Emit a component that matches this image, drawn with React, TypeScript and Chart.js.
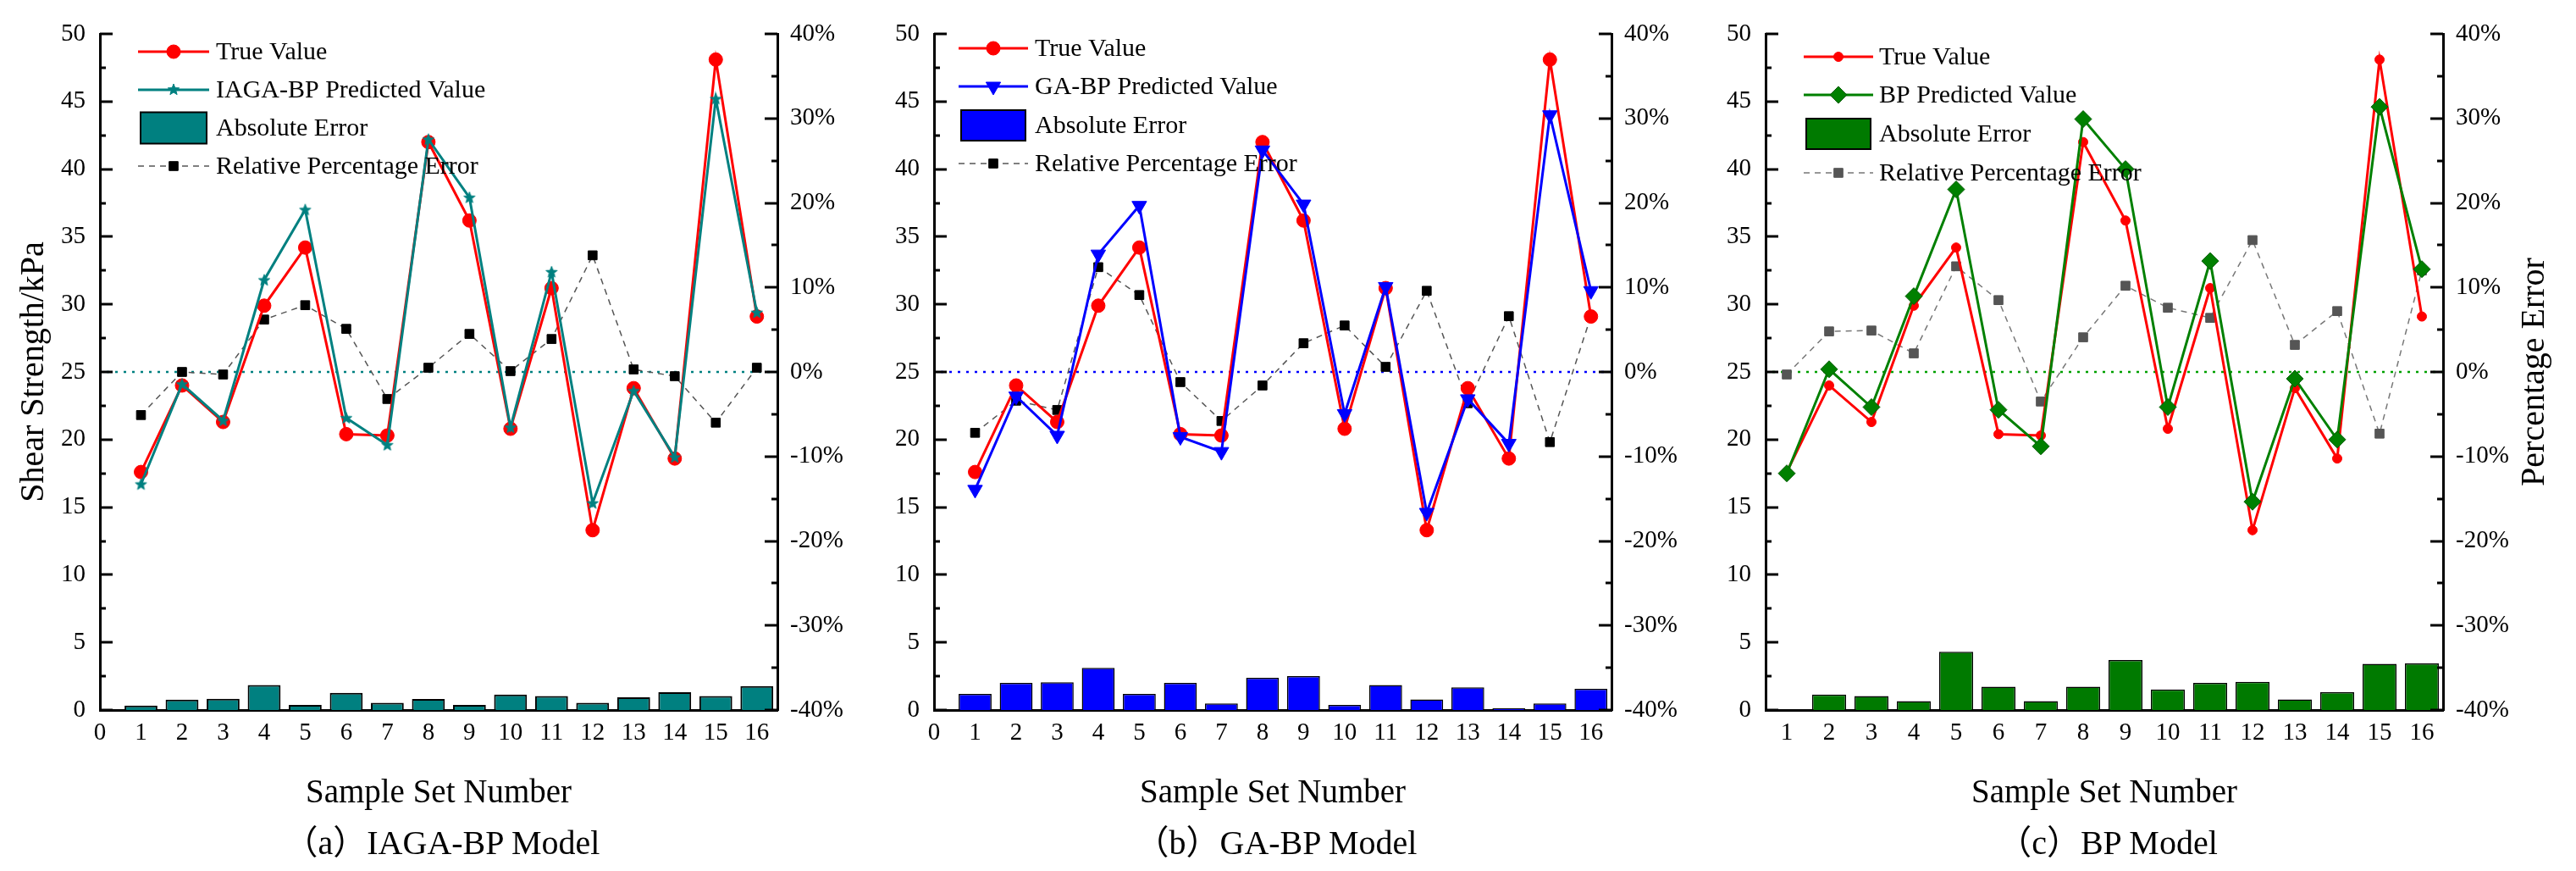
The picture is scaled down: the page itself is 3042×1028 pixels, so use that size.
import React, { useEffect, useRef } from 'react';
import { Chart, registerables } from 'chart.js';

Chart.register(...registerables);

const FONT = '"Liberation Serif", "Times New Roman", serif';

// ---------------- data ----------------
const sampleNumbers = [1, 2, 3, 4, 5, 6, 7, 8, 9, 10, 11, 12, 13, 14, 15, 16];
const trueValues = [17.6, 24.0, 21.3, 29.9, 34.2, 20.4, 20.3, 42.0, 36.2, 20.8, 31.2, 13.3, 23.8, 18.6, 48.1, 29.1];

const iagaPredicted = [16.7, 24.1, 21.4, 31.8, 37.0, 21.6, 19.6, 42.2, 37.9, 20.9, 32.4, 15.3, 23.6, 18.7, 45.2, 29.4];
const iagaAbsError = [0.33, 0.76, 0.83, 1.85, 0.37, 1.27, 0.53, 0.82, 0.37, 1.15, 1.03, 0.53, 0.94, 1.31, 1.03, 1.77];
const iagaRelError = [-5.1, 0.0, -0.3, 6.2, 7.9, 5.1, -3.2, 0.5, 4.5, 0.1, 3.9, 13.8, 0.3, -0.5, -6.0, 0.5];

const gaPredicted = [16.3, 23.2, 20.3, 33.7, 37.3, 20.2, 19.1, 41.4, 37.4, 21.9, 31.3, 14.6, 23.0, 19.7, 44.0, 31.0];
const gaAbsError = [1.19, 2.01, 2.05, 3.12, 1.19, 2.01, 0.49, 2.38, 2.5, 0.37, 1.85, 0.78, 1.68, 0.12, 0.49, 1.56];
const gaRelError = [-7.2, -3.4, -4.5, 12.4, 9.1, -1.2, -5.8, -1.6, 3.4, 5.5, 0.6, 9.6, -3.7, 6.6, -8.3, 6.6];

const bpPredicted = [17.5, 25.2, 22.4, 30.6, 38.5, 22.2, 19.5, 43.7, 40.0, 22.4, 33.2, 15.4, 24.5, 20.0, 44.6, 32.6];
const bpAbsError = [0, 1.15, 1.03, 0.66, 4.31, 1.72, 0.66, 1.72, 3.69, 1.52, 2.01, 2.09, 0.78, 1.31, 3.41, 3.45];
const bpRelError = [-0.3, 4.8, 4.9, 2.2, 12.5, 8.5, -3.5, 4.1, 10.2, 7.6, 6.4, 15.6, 3.2, 7.2, -7.3, 12.0];

// tick labels on the sample axis
const sampleTicksWithZero = [0, ...sampleNumbers];

// axis ranges / tick steps
const strengthMin = 0;
const strengthMax = 50;
const strengthStep = 5;
const percentMin = -40;
const percentMax = 40;
const percentStep = 10;
const sampleMax = 16.5;

// ---------------- helpers ----------------
const pts = (arr: number[]) => sampleNumbers.map((s, i) => ({ x: s, y: arr[i] }));

function markerPath(ctx: CanvasRenderingContext2D, style: string, x: number, y: number, r: number) {
  ctx.beginPath();
  if (style === 'circle') {
    ctx.arc(x, y, r, 0, Math.PI * 2);
  } else if (style === 'square') {
    const s = r * Math.SQRT1_2;
    ctx.rect(x - s, y - s, 2 * s, 2 * s);
  } else if (style === 'triangleDown') {
    ctx.moveTo(x - r * 0.866, y - r * 0.5);
    ctx.lineTo(x + r * 0.866, y - r * 0.5);
    ctx.lineTo(x, y + r);
    ctx.closePath();
  } else if (style === 'diamond') {
    ctx.moveTo(x, y - r);
    ctx.lineTo(x + r, y);
    ctx.lineTo(x, y + r);
    ctx.lineTo(x - r, y);
    ctx.closePath();
  } else if (style === 'star') {
    for (let i = 0; i < 10; i++) {
      const ang = -Math.PI / 2 + (i * Math.PI) / 5;
      const rad = i % 2 === 0 ? r : r * 0.42;
      const px = x + rad * Math.cos(ang);
      const py = y + rad * Math.sin(ang);
      if (i === 0) ctx.moveTo(px, py);
      else ctx.lineTo(px, py);
    }
    ctx.closePath();
  }
}

function drawMarker(ctx: CanvasRenderingContext2D, m: any, x: number, y: number) {
  ctx.save();
  markerPath(ctx, m.style, x, y, m.r);
  ctx.fillStyle = m.fill;
  ctx.fill();
  ctx.lineWidth = 1;
  ctx.strokeStyle = m.stroke;
  ctx.stroke();
  ctx.restore();
}

function makeStar(color: string, r: number) {
  const size = Math.ceil(r * 2 + 4);
  const c = document.createElement('canvas');
  c.width = size;
  c.height = size;
  const cx = c.getContext('2d')!;
  drawMarker(cx, { style: 'star', r, fill: color, stroke: color }, size / 2, size / 2 + 0.5);
  return c;
}

// ---------------- panel specs (layout / style only) ----------------
const panels = [
  {
    key: 'a',
    left: 0,
    width: 1010,
    leftW: 118,
    rightW: 92,
    xMin: 0,
    xTicks: sampleTicksWithZero,
    leftTitle: 'Shear Strength/kPa',
    rightTitle: '',
    caption: '（a）IAGA-BP Model',
    predLabel: 'IAGA-BP Predicted Value',
    predColor: '#008080',
    predMarker: { style: 'star', r: 7, fill: '#008080', stroke: '#008080' },
    trueMarker: { style: 'circle', r: 8, fill: '#ff0000', stroke: '#ff0000' },
    barColor: '#008080',
    barBorder: 2,
    relPoint: '#000000',
    relLine: '#555555',
    zeroColor: '#008080',
    legend: { lineX: 163, lineLen: 84, textX: 255, rows: [61, 106, 151, 196], boxH: 37 },
    pred: iagaPredicted,
    abs: iagaAbsError,
    rel: iagaRelError,
  },
  {
    key: 'b',
    left: 1010,
    width: 1000,
    leftW: 93,
    rightW: 107,
    xMin: 0,
    xTicks: sampleTicksWithZero,
    leftTitle: '',
    rightTitle: '',
    caption: '（b）GA-BP Model',
    predLabel: 'GA-BP Predicted Value',
    predColor: '#0000ff',
    predMarker: { style: 'triangleDown', r: 10, fill: '#0000ff', stroke: '#0000ff' },
    trueMarker: { style: 'circle', r: 8, fill: '#ff0000', stroke: '#ff0000' },
    barColor: '#0000ff',
    barBorder: 1.5,
    relPoint: '#000000',
    relLine: '#555555',
    zeroColor: '#0000ff',
    legend: { lineX: 122, lineLen: 82, textX: 212, rows: [57, 102, 148, 193], boxH: 36 },
    pred: gaPredicted,
    abs: gaAbsError,
    rel: gaRelError,
  },
  {
    key: 'c',
    left: 2010,
    width: 1032,
    leftW: 75,
    rightW: 157,
    xMin: 0.5,
    xTicks: sampleNumbers,
    leftTitle: '',
    rightTitle: 'Percentage Error',
    caption: '（c）BP Model',
    predLabel: 'BP Predicted Value',
    predColor: '#008000',
    predMarker: { style: 'diamond', r: 10, fill: '#008000', stroke: '#005a00' },
    trueMarker: { style: 'circle', r: 5.5, fill: '#ff0000', stroke: '#ff0000' },
    barColor: '#007a00',
    barBorder: 1.5,
    relPoint: '#555555',
    relLine: '#777777',
    zeroColor: '#00a000',
    legend: { lineX: 120, lineLen: 82, textX: 209, rows: [67, 112, 158, 204], boxH: 36 },
    pred: bpPredicted,
    abs: bpAbsError,
    rel: bpRelError,
  },
];

function overlayPlugin(spec: any) {
  return {
    id: 'overlay_' + spec.key,
    beforeDatasetsDraw(chart: any) {
      const { ctx, chartArea, scales } = chart;
      const y0 = scales.y1.getPixelForValue(0);
      ctx.save();
      ctx.strokeStyle = spec.zeroColor;
      ctx.lineWidth = 2.5;
      ctx.setLineDash([3, 7]);
      ctx.beginPath();
      ctx.moveTo(chartArea.left + 8, y0);
      ctx.lineTo(chartArea.right, y0);
      ctx.stroke();
      ctx.restore();
    },
    afterDraw(chart: any) {
      const { ctx, chartArea, scales } = chart;
      // inward tick marks
      ctx.save();
      ctx.strokeStyle = '#000';
      ctx.lineWidth = 3;
      ctx.beginPath();
      for (let v = strengthMin; v <= strengthMax + 1e-9; v += strengthStep / 2) {
        const py = Math.round(scales.y.getPixelForValue(v));
        const len = Math.abs(v / strengthStep - Math.round(v / strengthStep)) < 1e-6 ? 15 : 7;
        ctx.moveTo(chartArea.left, py);
        ctx.lineTo(chartArea.left + len, py);
      }
      for (let v = percentMin; v <= percentMax + 1e-9; v += percentStep / 2) {
        const py = Math.round(scales.y1.getPixelForValue(v));
        const len = Math.abs(v / percentStep - Math.round(v / percentStep)) < 1e-6 ? 15 : 7;
        ctx.moveTo(chartArea.right, py);
        ctx.lineTo(chartArea.right - len, py);
      }
      ctx.stroke();
      ctx.restore();

      // legend
      const L = spec.legend;
      const mid = L.lineX + L.lineLen / 2;
      ctx.save();
      ctx.font = '30px ' + FONT;
      ctx.textBaseline = 'middle';
      ctx.textAlign = 'left';
      const labels = ['True Value', spec.predLabel, 'Absolute Error', 'Relative Percentage Error'];
      ctx.save();
      ctx.strokeStyle = '#ff0000';
      ctx.lineWidth = 3;
      ctx.beginPath();
      ctx.moveTo(L.lineX, L.rows[0]);
      ctx.lineTo(L.lineX + L.lineLen, L.rows[0]);
      ctx.stroke();
      ctx.restore();
      drawMarker(ctx, spec.trueMarker, mid, L.rows[0]);
      ctx.save();
      ctx.strokeStyle = spec.predColor;
      ctx.lineWidth = 3;
      ctx.beginPath();
      ctx.moveTo(L.lineX, L.rows[1]);
      ctx.lineTo(L.lineX + L.lineLen, L.rows[1]);
      ctx.stroke();
      ctx.restore();
      drawMarker(ctx, spec.predMarker, mid, L.rows[1]);
      ctx.save();
      ctx.fillStyle = spec.barColor;
      ctx.strokeStyle = '#000';
      ctx.lineWidth = 2;
      ctx.fillRect(L.lineX + 3, L.rows[2] - L.boxH / 2, L.lineLen - 6, L.boxH);
      ctx.strokeRect(L.lineX + 3, L.rows[2] - L.boxH / 2, L.lineLen - 6, L.boxH);
      ctx.restore();
      ctx.save();
      ctx.strokeStyle = spec.relLine;
      ctx.lineWidth = 1.5;
      ctx.setLineDash([7, 6]);
      ctx.beginPath();
      ctx.moveTo(L.lineX, L.rows[3]);
      ctx.lineTo(L.lineX + L.lineLen, L.rows[3]);
      ctx.stroke();
      ctx.restore();
      drawMarker(ctx, { style: 'square', r: 7.5, fill: spec.relPoint, stroke: spec.relPoint }, mid, L.rows[3]);
      ctx.fillStyle = '#000';
      labels.forEach((t, k) => ctx.fillText(t, L.textX, L.rows[k] + 1));
      ctx.restore();

      if (spec.rightTitle) {
        ctx.save();
        ctx.translate(chartArea.right + 108, (chartArea.top + chartArea.bottom) / 2);
        ctx.rotate(-Math.PI / 2);
        ctx.font = '40px ' + FONT;
        ctx.textAlign = 'center';
        ctx.textBaseline = 'middle';
        ctx.fillStyle = '#000';
        ctx.fillText(spec.rightTitle, 0, 0);
        ctx.restore();
      }
    },
  };
}

function Panel({ spec }: { spec: any }) {
  const ref = useRef<HTMLCanvasElement>(null);
  useEffect(() => {
    const canvas = ref.current!;
    const starImg = makeStar(spec.predColor, 7);
    const predPointStyle =
      spec.predMarker.style === 'star'
        ? starImg
        : spec.predMarker.style === 'triangleDown'
        ? 'triangle'
        : spec.predMarker.style === 'diamond'
        ? 'rectRot'
        : 'circle';
    const tickFont = { family: FONT, size: 29 };
    const chart = new Chart(canvas, {
      type: 'line',
      data: {
        datasets: [
          {
            type: 'line',
            label: 'True Value',
            data: pts(trueValues),
            yAxisID: 'y',
            borderColor: '#ff0000',
            backgroundColor: '#ff0000',
            borderWidth: 3,
            pointStyle: 'circle',
            pointRadius: spec.trueMarker.r,
            pointBackgroundColor: '#ff0000',
            pointBorderColor: '#ff0000',
            pointBorderWidth: 1,
            order: 1,
          } as any,
          {
            type: 'line',
            label: spec.predLabel,
            data: pts(spec.pred),
            yAxisID: 'y',
            borderColor: spec.predColor,
            backgroundColor: spec.predColor,
            borderWidth: 3,
            pointStyle: predPointStyle,
            pointRotation: spec.predMarker.style === 'triangleDown' ? 180 : 0,
            pointRadius: spec.predMarker.r,
            pointBackgroundColor: spec.predMarker.fill,
            pointBorderColor: spec.predMarker.stroke,
            pointBorderWidth: 1,
            order: 0,
          } as any,
          {
            type: 'bar',
            label: 'Absolute Error',
            data: pts(spec.abs),
            yAxisID: 'y',
            backgroundColor: spec.barColor,
            borderColor: '#000000',
            borderWidth: spec.barBorder,
            barPercentage: 0.8,
            categoryPercentage: 1,
            order: 3,
          } as any,
          {
            type: 'line',
            label: 'Relative Percentage Error',
            data: pts(spec.rel),
            yAxisID: 'y1',
            borderColor: spec.relLine,
            backgroundColor: spec.relPoint,
            borderWidth: 1.5,
            borderDash: [7, 6],
            pointStyle: 'rect',
            pointRadius: 7.5,
            pointBackgroundColor: spec.relPoint,
            pointBorderColor: spec.relPoint,
            pointBorderWidth: 1,
            order: 2,
          } as any,
        ],
      },
      options: {
        responsive: false,
        animation: false,
        devicePixelRatio: 1,
        events: [],
        layout: { padding: { top: 40, bottom: 68, left: 0, right: 0 } },
        plugins: { legend: { display: false }, tooltip: { enabled: false }, title: { display: false } },
        scales: {
          x: {
            type: 'linear',
            min: spec.xMin,
            max: sampleMax,
            offset: false,
            grid: { display: false, drawTicks: false },
            border: { display: true, color: '#000', width: 3 },
            ticks: {
              stepSize: 1,
              includeBounds: false,
              padding: 10,
              color: '#000',
              font: tickFont,
              maxRotation: 0,
              autoSkip: false,
            },
            afterBuildTicks: (s: any) => {
              s.ticks = spec.xTicks.map((v: number) => ({ value: v }));
            },
            afterFit: (s: any) => {
              s.height = 122;
            },
            title: {
              display: true,
              text: 'Sample Set Number',
              color: '#000',
              font: { family: FONT, size: 39 },
              padding: { top: 0, bottom: 0 },
            },
          },
          y: {
            type: 'linear',
            position: 'left',
            min: strengthMin,
            max: strengthMax,
            grid: { display: false, drawTicks: false },
            border: { display: true, color: '#000', width: 3 },
            ticks: { stepSize: strengthStep, padding: 17, color: '#000', font: tickFont },
            afterFit: (s: any) => {
              s.width = spec.leftW;
            },
            title: {
              display: !!spec.leftTitle,
              text: spec.leftTitle,
              color: '#000',
              font: { family: FONT, size: 40 },
              padding: { top: 16, bottom: 0 },
            },
          },
          y1: {
            type: 'linear',
            position: 'right',
            min: percentMin,
            max: percentMax,
            grid: { display: false, drawTicks: false, drawOnChartArea: false },
            border: { display: true, color: '#000', width: 3 },
            ticks: {
              stepSize: percentStep,
              padding: 15,
              color: '#000',
              font: tickFont,
              callback: (v: any) => v + '%',
            },
            afterFit: (s: any) => {
              s.width = spec.rightW;
            },
          },
        },
      } as any,
      plugins: [overlayPlugin(spec)],
    } as any);
    return () => chart.destroy();
  }, []);

  const plotLeft = spec.leftW;
  const plotWidth = spec.width - spec.leftW - spec.rightW;
  return (
    <div style={{ position: 'absolute', left: spec.left, top: 0, width: spec.width, height: 1028 }}>
      <canvas ref={ref} width={spec.width} height={1028} style={{ display: 'block', width: spec.width, height: 1028 }} />
      <div
        style={{
          position: 'absolute',
          left: plotLeft + 4,
          width: plotWidth,
          top: 971,
          textAlign: 'center',
          fontFamily: FONT + ', "Noto Sans CJK SC"',
          fontSize: 40,
          lineHeight: '48px',
          color: '#000',
          whiteSpace: 'nowrap',
        }}
      >
        {spec.caption}
      </div>
    </div>
  );
}

export default function App() {
  return (
    <div style={{ position: 'absolute', left: 0, top: 0, width: 3042, height: 1028, overflow: 'hidden', background: '#fff' }}>
      {panels.map((p) => (
        <Panel key={p.key} spec={p} />
      ))}
    </div>
  );
}
